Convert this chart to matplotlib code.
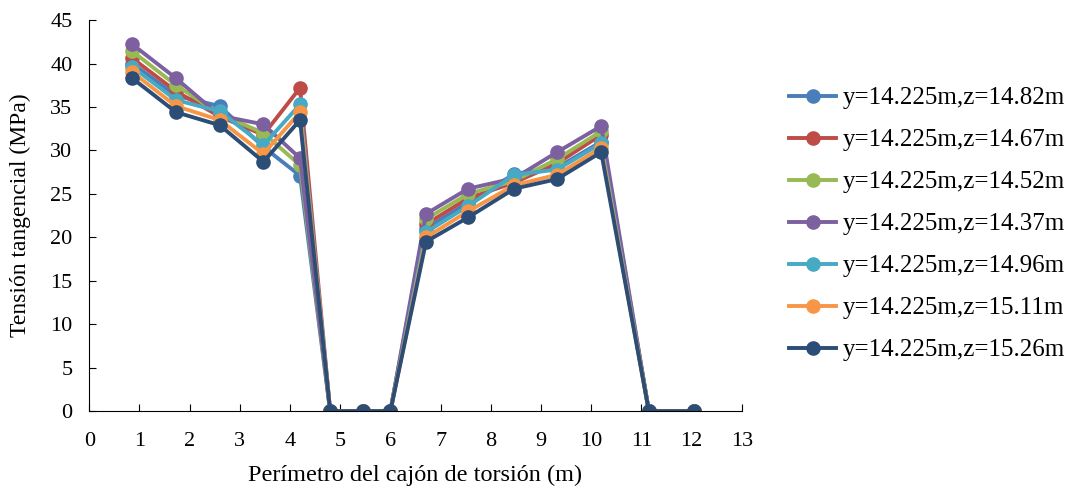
import matplotlib.pyplot as plt

plt.rcParams['font.family'] = ['Liberation Serif', 'DejaVu Serif']

# perímetro (m)
x = [0.86, 1.73, 2.60, 3.47, 4.20, 4.80, 5.45, 6.00,
     6.71, 7.55, 8.47, 9.32, 10.20, 11.15, 12.05]

labels = ['y=14.225m,z=14.82m', 'y=14.225m,z=14.67m', 'y=14.225m,z=14.52m',
          'y=14.225m,z=14.37m', 'y=14.225m,z=14.96m', 'y=14.225m,z=15.11m',
          'y=14.225m,z=15.26m']

z1482 = [40.0, 36.3, 35.1, 30.4, 27.1, 0, 0, 0, 21.0, 24.0, 27.3, 28.0, 31.0, 0, 0]
z1467 = [40.6, 36.8, 33.9, 31.8, 37.2, 0, 0, 0, 21.5, 24.5, 26.3, 28.5, 31.8, 0, 0]
z1452 = [41.4, 37.5, 34.2, 32.0, 28.3, 0, 0, 0, 22.1, 25.0, 26.5, 29.0, 32.2, 0, 0]
z1437 = [42.2, 38.3, 34.0, 33.0, 29.1, 0, 0, 0, 22.7, 25.6, 26.8, 29.8, 32.8, 0, 0]
z1496 = [39.6, 35.8, 34.5, 30.6, 35.3, 0, 0, 0, 20.6, 23.6, 27.2, 27.8, 30.8, 0, 0]
z1511 = [39.0, 35.1, 33.5, 29.6, 34.4, 0, 0, 0, 20.0, 23.0, 26.0, 27.2, 30.3, 0, 0]
z1526 = [38.3, 34.4, 32.9, 28.7, 33.5, 0, 0, 0, 19.5, 22.3, 25.6, 26.7, 29.8, 0, 0]

series = [z1482, z1467, z1452, z1437, z1496, z1511, z1526]
colors = ['#4A7EBB', '#BE4B48', '#98B954', '#7D60A0', '#46AAC5', '#F79646', '#2C4D75']

fig = plt.figure(figsize=(10.75, 4.9), dpi=100)
ax = fig.add_axes([0.083, 0.161, 0.607, 0.798])

for vals, lab, c in zip(series, labels, colors):
    ax.plot(x, vals, color=c, lw=2.8, marker='o', ms=9.5, label=lab)

ax.set_xlim(0, 13)
ax.set_ylim(0, 45)
ax.set_xticks(range(0, 14))
ax.set_yticks(range(0, 46, 5))
ax.tick_params(direction='in', labelsize=16, length=5)
ax.tick_params(axis='x', pad=15)
ax.tick_params(axis='y', pad=12)
ax.spines['top'].set_visible(False)
ax.spines['right'].set_visible(False)
ax.set_xlabel('Perímetro del cajón de torsión (m)', fontsize=17.5, labelpad=10)
ax.set_ylabel('Tensión tangencial (MPa)', fontsize=17, labelpad=14)

ax.legend(loc='center left', bbox_to_anchor=(1.073, 0.478), frameon=False,
          fontsize=18, labelspacing=0.78, handlelength=1.85, handletextpad=0.3,
          borderaxespad=0, borderpad=0)

plt.savefig('out.png', dpi=100)
